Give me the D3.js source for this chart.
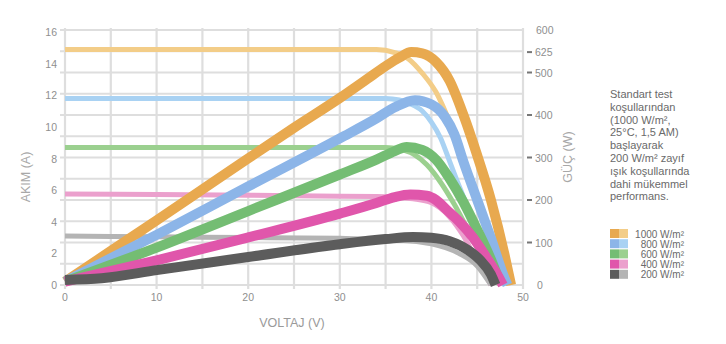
<!DOCTYPE html>
<html>
<head>
<meta charset="utf-8">
<script src="https://cdn.jsdelivr.net/npm/d3@7"></script>
<style>
  body { margin: 0; background: #fff; }
  svg { font-family: "Liberation Sans", Arial, sans-serif; }
</style>
</head>
<body>
<div id="chart"></div>
<script>
// irradiance levels, darker colour = power, lighter = current
var levels = ["1000 W/m²", "800 W/m²", "600 W/m²", "400 W/m²", "200 W/m²"]
var darkColors = ["#e8a94f", "#8cb5e8", "#74bd73", "#e056ab", "#5c5c5c"]
var lightColors = ["#f3cd88", "#a9d2f3", "#9bd08f", "#eba0cd", "#b4b4b4"]

// current (A) against voltage (V)
var current1000 = [[0, 14.9], [10, 14.9], [20, 14.9], [30, 14.9], [34, 14.9], [36, 14.7], [37.5, 14.3], [39, 13.4], [40.5, 12.2], [42, 10.3], [43.5, 8.0], [45, 5.5], [46.5, 3.0], [48, 0.4], [48.2, 0]]
var current800 = [[0, 11.8], [10, 11.8], [20, 11.8], [30, 11.8], [35, 11.8], [36.5, 11.7], [37.5, 11.5], [39, 11.0], [40, 10.3], [41, 9.3], [42, 7.8], [43, 6.3], [44.5, 4.2], [46, 2.3], [47.5, 0.4], [47.8, 0]]
var current600 = [[0, 8.7], [10, 8.7], [20, 8.7], [30, 8.7], [35, 8.7], [36.5, 8.6], [38, 8.3], [39.5, 7.6], [41, 6.5], [42.5, 5.1], [44, 3.5], [45.5, 2.0], [47, 0.6], [47.4, 0]]
var current400 = [[0, 5.75], [10, 5.72], [20, 5.68], [30, 5.62], [34, 5.6], [36, 5.55], [38, 5.45], [40, 5.2], [42, 4.3], [43.5, 3.1], [45, 1.5], [46, 0.5], [46.5, 0]]
var current200 = [[0, 3.1], [10, 3.05], [20, 3.0], [30, 2.95], [36, 2.85], [40, 2.6], [43, 2.0], [45, 1.2], [46.5, 0]]

// power (W) against voltage (V)
var power1000 = [[0, 8], [5, 80], [10, 152], [15, 225], [20, 298], [25, 370], [30, 440], [33, 485], [35, 515], [36.5, 535], [37.8, 548], [39, 545], [40.5, 525], [42, 480], [43.5, 400], [45, 305], [46.5, 200], [48, 70], [48.7, 0]]
var power800 = [[0, 8], [10, 118], [20, 232], [30, 345], [34, 392], [36, 418], [38.2, 435], [40, 425], [41.5, 395], [42.5, 355], [43.5, 290], [45, 200], [46.5, 110], [48, 15], [48.3, 0]]
var power600 = [[0, 8], [10, 88], [20, 174], [30, 260], [34, 295], [36, 315], [37.3, 325], [39, 318], [40.5, 295], [42, 250], [43.5, 195], [45, 130], [46.5, 60], [47.5, 5]]
var power400 = [[0, 8], [10, 58], [20, 112], [30, 168], [34, 193], [36, 207], [37.7, 213], [39.5, 210], [40.5, 200], [41.7, 176], [43, 150], [44.5, 113], [46, 65], [47.3, 20], [47.8, 0]]
var power200 = [[0, 12], [4, 16], [10, 35], [20, 66], [30, 96], [35, 108], [38, 113], [40, 111], [42, 103], [44, 82], [45.3, 59], [46.5, 25], [47, 0]]

var currentSeries = [current1000, current800, current600, current400, current200]
var powerSeries = [power1000, power800, power600, power400, power200]

var voltTicks = [0, 10, 20, 30, 40, 50]
var ampTicks = [0, 2, 4, 6, 8, 10, 12, 14, 16]
var wattTicks = [100, 200, 300, 400, 500]
var peakLabel = "625"

var noteLines = ["Standart test", "koşullarından", "(1000 W/m²,", "25°C, 1,5 AM)", "başlayarak", "200 W/m² zayıf", "ışık koşullarında", "dahi mükemmel", "performans."]

var svg = d3.select("#chart")
    .append("svg")
    .attr("width", 726)
    .attr("height", 344)

var x = d3.scaleLinear().domain([0, 50]).range([65, 523])
var yA = d3.scaleLinear().domain([0, 16]).range([285, 32])
var yW = d3.scaleLinear().domain([0, 600]).range([285, 30])

// grid
var grid = svg.append("g").attr("class", "grid")
grid.selectAll("line.v")
    .data(d3.range(0, 51, 5))
    .enter()
    .append("line")
    .attr("x1", function (d) { return x(d) })
    .attr("x2", function (d) { return x(d) })
    .attr("y1", 28)
    .attr("y2", 289)
    .style("stroke", "#dedede")
    .style("stroke-width", 2.2)

grid.selectAll("line.h")
    .data(d3.range(0, 601, 50))
    .enter()
    .append("line")
    .attr("x1", 60)
    .attr("x2", 523)
    .attr("y1", function (d) { return yW(d) })
    .attr("y2", function (d) { return yW(d) })
    .style("stroke", "#dedede")
    .style("stroke-width", 2.2)

// tick labels
var labelColor = "#8f8f8f"
svg.append("g").selectAll("text")
    .data(voltTicks)
    .enter()
    .append("text")
    .attr("x", function (d) { return x(d) })
    .attr("y", 301)
    .attr("text-anchor", "middle")
    .style("font-size", "10.5px")
    .style("fill", labelColor)
    .text(function (d) { return d })

svg.append("g").selectAll("text")
    .data(ampTicks)
    .enter()
    .append("text")
    .attr("x", 57)
    .attr("y", function (d) { return yA(d) + 4 })
    .attr("text-anchor", "end")
    .style("font-size", "10.5px")
    .style("fill", labelColor)
    .text(function (d) { return d })

var rightAxis = svg.append("g")
rightAxis.selectAll("rect")
    .data(wattTicks)
    .enter()
    .append("rect")
    .attr("x", 527)
    .attr("y", function (d) { return yW(d) - 1 })
    .attr("width", 5)
    .attr("height", 2)
    .style("fill", "#777")
rightAxis.selectAll("text")
    .data(wattTicks)
    .enter()
    .append("text")
    .attr("x", 535)
    .attr("y", function (d) { return yW(d) + 4 })
    .style("font-size", "10.5px")
    .style("fill", labelColor)
    .text(function (d) { return d })

rightAxis.append("text")
    .attr("x", 536)
    .attr("y", yW(600) + 4)
    .style("font-size", "10.5px")
    .style("fill", labelColor)
    .text("600")
rightAxis.append("text")
    .attr("x", 537)
    .attr("y", yW(0) + 4)
    .style("font-size", "10.5px")
    .style("fill", labelColor)
    .text("0")

var peak = d3.max(power1000, function (d) { return d[1] })
rightAxis.append("rect")
    .attr("x", 527)
    .attr("y", yW(peak) - 1)
    .attr("width", 5)
    .attr("height", 2)
    .style("fill", "#777")
rightAxis.append("text")
    .attr("x", 535)
    .attr("y", yW(peak) + 4)
    .style("font-size", "10.5px")
    .style("fill", labelColor)
    .text(peakLabel)

// axis titles
svg.append("text")
    .attr("x", 292)
    .attr("y", 327)
    .attr("text-anchor", "middle")
    .style("font-size", "12.5px")
    .style("fill", "#9a9a9a")
    .text("VOLTAJ (V)")

svg.append("text")
    .attr("transform", "translate(30,177) rotate(-90)")
    .attr("text-anchor", "middle")
    .style("font-size", "12.5px")
    .style("fill", "#a8a8a8")
    .text("AKIM (A)")

svg.append("text")
    .attr("transform", "translate(572,157) rotate(-90)")
    .attr("text-anchor", "middle")
    .style("font-size", "12.5px")
    .style("fill", "#a8a8a8")
    .text("GÜÇ (W)")

// curves
var lineA = d3.line()
    .x(function (d) { return x(d[0]) })
    .y(function (d) { return yA(d[1]) })
    .curve(d3.curveMonotoneX)
var lineW = d3.line()
    .x(function (d) { return x(d[0]) })
    .y(function (d) { return yW(d[1]) })
    .curve(d3.curveMonotoneX)

var currentGroup = svg.append("g").attr("class", "current")
currentGroup.selectAll("path")
    .data(currentSeries)
    .enter()
    .append("path")
    .attr("d", lineA)
    .style("fill", "none")
    .style("stroke", function (d, i) { return lightColors[i] })
    .style("stroke-width", 5)
    .style("stroke-linejoin", "round")

var powerGroup = svg.append("g").attr("class", "power")
powerGroup.selectAll("path")
    .data(powerSeries)
    .enter()
    .append("path")
    .attr("d", lineW)
    .style("fill", "none")
    .style("stroke", function (d, i) { return darkColors[i] })
    .style("stroke-width", 10)
    .style("stroke-linejoin", "round")

// note text
svg.append("text")
    .attr("x", 610)
    .attr("y", 98)
    .style("font-size", "11px")
    .style("fill", "#6a6a6a")
    .selectAll("tspan")
    .data(noteLines)
    .enter()
    .append("tspan")
    .attr("x", 610)
    .attr("dy", function (d, i) { return i === 0 ? 0 : 12.8 })
    .text(function (d) { return d })

// legend
var legend = svg.append("g").attr("class", "legend")
var rows = legend.selectAll("g")
    .data(levels)
    .enter()
    .append("g")
    .attr("transform", function (d, i) { return "translate(610," + (229 + i * 10.2) + ")" })
rows.append("rect")
    .attr("width", 9)
    .attr("height", 9)
    .style("fill", function (d, i) { return darkColors[i] })
rows.append("rect")
    .attr("x", 9)
    .attr("width", 9)
    .attr("height", 9)
    .style("fill", function (d, i) { return lightColors[i] })
rows.append("text")
    .attr("x", 74)
    .attr("y", 8.5)
    .attr("text-anchor", "end")
    .style("font-size", "10px")
    .style("fill", "#6a6a6a")
    .text(function (d) { return d })
</script>
</body>
</html>
